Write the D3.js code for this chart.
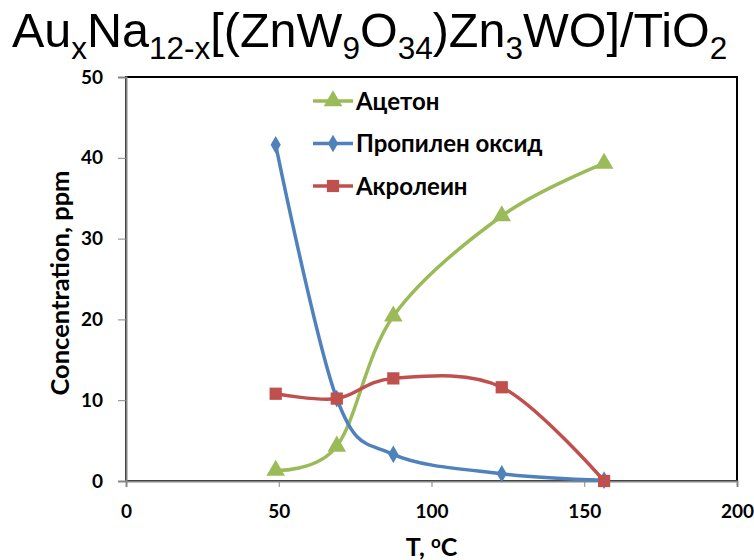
<!DOCTYPE html>
<html lang="en">
<head>
    <meta charset="UTF-8">
    <title>Concentration vs T</title>
    <script src="https://cdn.jsdelivr.net/npm/d3@7"></script>
    <style>
        body { margin: 0; background: #fff; }
        svg text { font-family: Lato, "Open Sans", sans-serif; }
    </style>
</head>
<body>
<script>

    // Data ////////////////////////////////////
    var temps = [49, 69, 87.5, 123, 156.5];
    var acetone = [1.3, 4.3, 20.4, 32.8, 39.3];
    var propyleneOxide = [41.6, 10.2, 3.3, 0.9, 0.1];
    var acrolein = [10.8, 10.2, 12.7, 11.6, 0];
    var seriesNames = ['Ацетон', 'Пропилен оксид', 'Акролеин'];
    var xTicks = [0, 50, 100, 150, 200];
    var yTicks = [0, 10, 20, 30, 40, 50];

    var width = 754, height = 560;
    var margins = {top: 77, right: 17, bottom: 79, left: 126};

    var svg = d3.select('body').append('svg')
            .attr('width', width).attr('height', height);

    var x = d3.scaleLinear().domain([0, 200]).range([margins.left, width - margins.right]);
    var y = d3.scaleLinear().domain([0, 50]).range([height - margins.bottom, margins.top]);

    //________________________________________________
    // Title
    //________________________________________________
    var title = svg.append('text')
            .attr('x', 12).attr('y', 47)
            .style('font-family', '"Liberation Sans", Arial, sans-serif')
            .style('font-size', '48.5px')
            .style('fill', '#000');
    var parts = [['Au', 0], ['x', 1], ['Na', 0], ['12-x', 1], ['[(ZnW', 0], ['9', 1], ['O', 0], ['34', 1],
        [')Zn', 0], ['3', 1], ['WO]/TiO', 0], ['2', 1]];
    var prevSub = 0;
    parts.forEach(function (p) {
        var t = title.append('tspan').text(p[0]);
        var shift = (p[1] ? 12 : 0) - (prevSub ? 12 : 0);
        if (shift) t.attr('dy', shift);
        if (p[1]) t.style('font-size', '31.5px');
        prevSub = p[1];
    });

    //________________________________________________
    // Frame and axes
    //________________________________________________
    svg.append('rect')
            .attr('x', x(0)).attr('y', y(50))
            .attr('width', x(200) - x(0)).attr('height', y(0) - y(50))
            .style('fill', 'none').style('stroke', '#000').style('stroke-width', 2);

    var yAxis = svg.append('g')
            .attr('transform', 'translate(' + x(0) + ',0)')
            .call(d3.axisLeft(y).tickValues(yTicks).tickSize(8).tickPadding(15));
    var xAxis = svg.append('g')
            .attr('transform', 'translate(0,' + y(0) + ')')
            .call(d3.axisBottom(x).tickValues(xTicks).tickSize(6).tickPadding(18));
    [xAxis, yAxis].forEach(function (a) {
        a.select('.domain').style('stroke', '#868686').style('stroke-width', 2);
        a.selectAll('.tick line').style('stroke', '#868686').style('stroke-width', 1);
        a.selectAll('.tick text')
                .style('font-family', 'Lato, sans-serif')
                .style('font-size', '19px').style('font-weight', 'bold').style('fill', '#000');
    });

    // Axis titles
    svg.append('text')
            .attr('transform', 'translate(69,' + (y(24.5)) + ') rotate(-90)')
            .attr('text-anchor', 'middle')
            .style('font-size', '25.5px').style('font-weight', 'bold')
            .text('Concentration, ppm');

    var xt = svg.append('text')
            .attr('x', x(100)).attr('y', 556)
            .attr('text-anchor', 'middle')
            .style('font-size', '25px').style('font-weight', 'bold');
    xt.append('tspan').text('T, ');
    xt.append('tspan').text('o').attr('dy', -8).style('font-size', '17px');
    xt.append('tspan').text('C').attr('dy', 8);

    //________________________________________________
    // Series
    //________________________________________________
    var series = [
        {name: seriesNames[0], values: acetone, color: '#9BBB59', symbol: d3.symbolTriangle, size: 150},
        {name: seriesNames[1], values: propyleneOxide, color: '#4F81BD', symbol: d3.symbolDiamond, size: 90},
        {name: seriesNames[2], values: acrolein, color: '#C0504D', symbol: d3.symbolSquare, size: 150}
    ];

    var line = d3.line()
            .x(function (d) { return x(d[0]); })
            .y(function (d) { return y(d[1]); })
            .curve(d3.curveCardinal.tension(0));

    series.forEach(function (s) {
        var pts = temps.map(function (t, i) { return [t, s.values[i]]; });
        var g = svg.append('g');
        g.append('path').datum(pts)
                .attr('d', line)
                .style('fill', 'none').style('stroke', s.color).style('stroke-width', 3.5);
        g.selectAll('path.m').data(pts).enter().append('path')
                .attr('class', 'm')
                .attr('transform', function (d) { return 'translate(' + x(d[0]) + ',' + y(d[1]) + ')'; })
                .attr('d', d3.symbol().type(s.symbol).size(s.size))
                .style('fill', s.color);
    });

    //________________________________________________
    // Legend
    //________________________________________________
    var legend = svg.append('g').attr('transform', 'translate(313,101)');
    series.forEach(function (s, i) {
        var row = legend.append('g').attr('transform', 'translate(0,' + (i * 42.5) + ')');
        row.append('line').attr('x1', 0).attr('x2', 40).attr('y1', 0).attr('y2', 0)
                .style('stroke', s.color).style('stroke-width', 3.5);
        row.append('path').attr('transform', 'translate(20,0)')
                .attr('d', d3.symbol().type(s.symbol).size(s.size))
                .style('fill', s.color);
        row.append('text').attr('x', 43).attr('y', 0).attr('dy', '0.36em')
                .style('font-size', '24px').style('font-weight', 'bold')
                .text(s.name);
    });

</script>
</body>
</html>
